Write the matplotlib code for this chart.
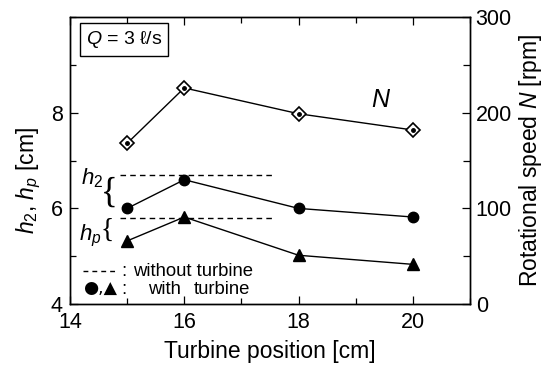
import matplotlib
matplotlib.use("Agg")
import matplotlib.pyplot as plt
from matplotlib.ticker import MultipleLocator

plt.rcParams['font.family'] = ['Liberation Sans', 'DejaVu Sans']
plt.rcParams['mathtext.fontset'] = 'custom'
plt.rcParams['mathtext.rm'] = 'Liberation Sans'
plt.rcParams['mathtext.it'] = 'Liberation Sans:italic'

positions = [15, 16, 18, 20]
h2_with = [6.0, 6.6, 6.0, 5.82]
hp_with = [5.32, 5.82, 5.02, 4.83]
speed_N = [168, 226, 199, 182]
h2_without = 6.70
hp_without = 5.80
dash_range = [14.87, 17.53]

fig = plt.figure(figsize=(5.55, 3.65), dpi=100)
ax = fig.add_axes([0.126, 0.167, 0.721, 0.786])
ax2 = ax.twinx()

ax.plot(positions, h2_with, '-', color='black', lw=1, marker='o', ms=7.5, zorder=3)
ax.plot(positions, hp_with, '-', color='black', lw=1, marker='^', ms=8, zorder=3)
ax.plot(dash_range, [h2_without]*2, '--', color='black', lw=1, dashes=(4, 3))
ax.plot(dash_range, [hp_without]*2, '--', color='black', lw=1, dashes=(4, 3))

ax2.plot(positions, speed_N, '-', color='black', lw=1, marker='D', ms=7,
         mfc='white', mec='black', mew=1.2, zorder=3)
ax2.plot(positions, speed_N, ls='none', marker='o', ms=2.5, color='black', zorder=4)

ax.set_xlim(14, 21)
ax.set_ylim(4, 10)
ax2.set_ylim(0, 300)
ax.set_xticks([14, 16, 18, 20])
ax.xaxis.set_minor_locator(MultipleLocator(1))
ax.set_yticks([4, 6, 8])
ax.yaxis.set_minor_locator(MultipleLocator(1))
ax2.set_yticks([0, 100, 200, 300])
ax2.yaxis.set_minor_locator(MultipleLocator(50))

ax.tick_params(axis='x', which='both', direction='in', top=True, labelsize=15.5, pad=6)
ax.tick_params(axis='y', which='both', direction='in', labelsize=15.5, pad=5)
ax.tick_params(which='major', length=6, width=0.9)
ax.tick_params(which='minor', length=4, width=0.9)
ax2.tick_params(which='both', direction='in', labelsize=15.5, pad=4)
ax2.tick_params(which='major', length=6, width=0.9)
ax2.tick_params(which='minor', length=5, width=0.9)

for a in (ax, ax2):
    for s in a.spines.values():
        s.set_linewidth(1.0)

ax.set_xlabel('Turbine position [cm]', fontsize=16.5, labelpad=5)
ax.set_ylabel('$h_2$, $h_p$ [cm]', fontsize=16.5)
ax.yaxis.set_label_coords(-0.068, 0.43)
ax2.set_ylabel('Rotational speed $N$ [rpm]', fontsize=16.5, labelpad=4)

ax.text(14.95, 9.53, '$Q$ = 3 ℓ/s', fontsize=14, ha='center', va='center',
        bbox=dict(boxstyle='square,pad=0.3', fc='white', ec='black', lw=1))

ax.text(14.68, 6.31, '{', fontsize=25, ha='center', va='center',
        family=['Liberation Serif'])
ax.text(14.655, 5.55, '{', fontsize=20, ha='center', va='center',
        family=['Liberation Serif'])
ax.text(14.38, 6.64, '$h_2$', fontsize=16, ha='center', va='center')
ax.text(14.35, 5.42, '$h_p$', fontsize=16, ha='center', va='center')

ax.plot([14.227, 14.787], [4.69, 4.69], '-', color='black', lw=1, dashes=(3.5, 2.9))
ax.text(14.944, 4.69, ':', fontsize=13.3, ha='center', va='center')
ax.text(15.10, 4.69, 'without turbine', fontsize=13.3, ha='left', va='center')
ax.text(14.227, 4.31, '●,▲', fontsize=12.5, ha='left', va='center',
        family=['DejaVu Sans'])
ax.text(14.944, 4.31, ':', fontsize=13.3, ha='center', va='center')
ax.text(15.36, 4.31, 'with', fontsize=13.3, ha='left', va='center')
ax.text(17.16, 4.31, 'turbine', fontsize=13.3, ha='right', va='center')

ax2.text(19.45, 213, '$N$', fontsize=18, ha='center', va='center')

fig.savefig('out.png', dpi=100)
